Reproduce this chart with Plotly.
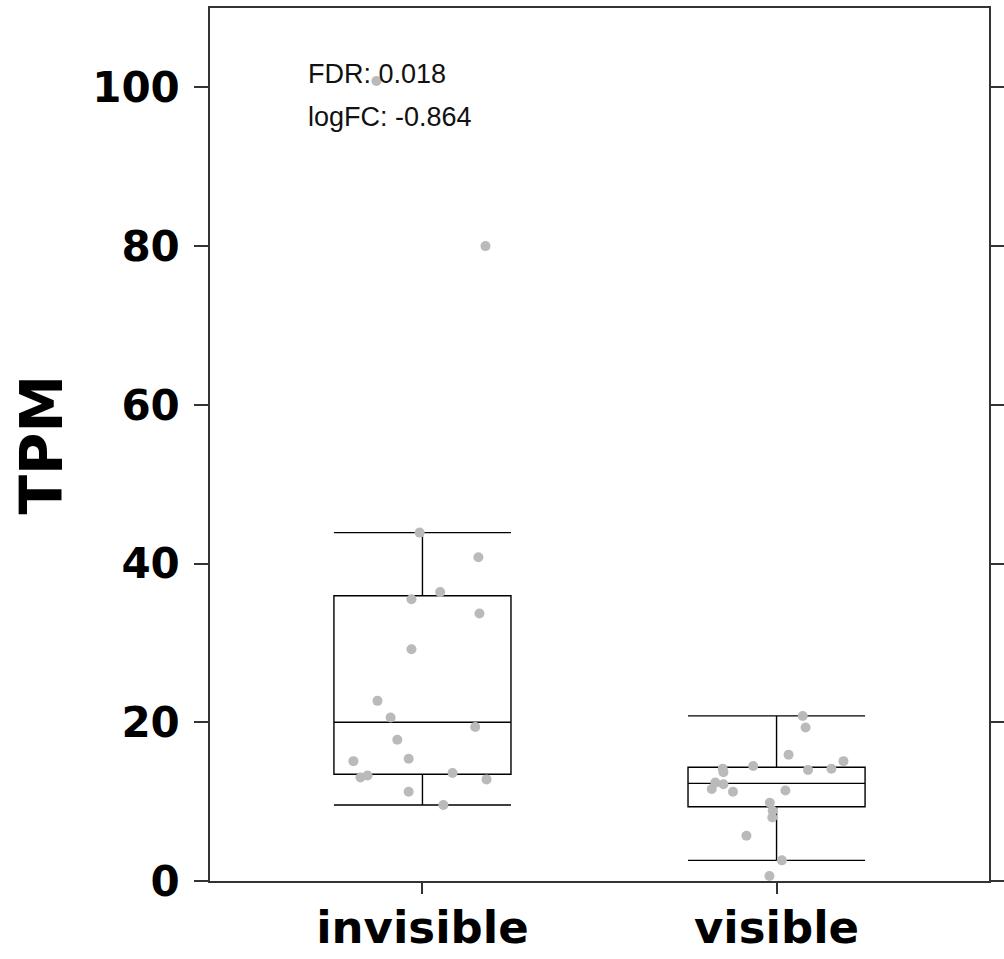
import numpy as np
import plotly.graph_objects as go

# Expression (TPM) per sample for each group
groups = ["invisible", "visible"]

tpm_invisible = [43.9, 40.8, 36.4, 35.5, 33.7, 29.2, 22.7, 20.6, 19.4, 17.8,
                 15.1, 15.4, 13.6, 13.05, 13.3, 12.8, 11.25, 9.57, 80.0, 100.8]
jitter_invisible = [-0.008, 0.158, 0.050, -0.031, 0.161, -0.031, -0.127, -0.090, 0.149, -0.071,
                    -0.195, -0.039, 0.085, -0.175, -0.155, 0.181, -0.039, 0.059, 0.178, -0.130]

tpm_visible = [20.8, 19.35, 15.9, 15.1, 14.15, 14.5, 14.0, 14.15, 13.7, 12.4,
               12.2, 11.6, 11.25, 11.4, 9.85, 8.85, 8.0, 5.7, 2.6, 0.63]
jitter_visible = [0.074, 0.082, 0.034, 0.189, -0.152, -0.066, 0.089, 0.155, -0.150, -0.173,
                  -0.150, -0.183, -0.123, 0.025, -0.019, -0.011, -0.012, -0.085, 0.015, -0.020]

y_ticks = [0, 20, 40, 60, 80, 100]
stats_lines = ["FDR: 0.018", "logFC: -0.864"]

values = [tpm_invisible, tpm_visible]
jitters = [jitter_invisible, jitter_visible]

W, H = 1004, 959
L, R, T, B = 210, 15, 8, 78

AXIS_COLOR = "#333333"
POINT_COLOR = "#bababa"

fig = go.Figure()

for i, (name, vals, jit) in enumerate(zip(groups, values, jitters)):
    pos = i + 1
    fig.add_trace(go.Scatter(
        x=[pos + j for j in jit], y=vals, mode="markers",
        marker=dict(size=10, color=POINT_COLOR, line=dict(width=0)),
        showlegend=False, hoverinfo="skip",
    ))
    fig.add_trace(go.Box(
        x=[pos] * len(vals), y=vals, name=name,
        width=0.5, whiskerwidth=1.0,
        quartilemethod="exclusive",
        boxpoints="outliers",
        marker=dict(opacity=0, size=1),
        line=dict(color="black", width=1.4),
        fillcolor="rgba(0,0,0,0)",
        showlegend=False,
    ))

# Statistics in the upper-left corner of the panel
for k, (txt, yp) in enumerate(zip(stats_lines, [74, 117])):
    fig.add_annotation(
        text=txt, xref="paper", yref="paper",
        x=(306 - L) / (W - L - R), y=(H - B - yp) / (H - B - T),
        xanchor="left", yanchor="middle", showarrow=False,
        font=dict(family="Liberation Sans", size=27, color="#111111"),
    )

# Y-axis title
fig.add_annotation(
    text="TPM", xref="paper", yref="paper", x=0, y=0.5,
    xshift=41 - L, xanchor="center", yanchor="middle", textangle=-90,
    showarrow=False,
    font=dict(family="DejaVu Sans", size=58, color="black", weight="bold"),
)

fig.update_layout(
    width=W, height=H,
    margin=dict(l=L, r=R, t=T, b=B, pad=0, autoexpand=False),
    paper_bgcolor="white", plot_bgcolor="white",
    showlegend=False,
    xaxis=dict(
        range=[0.4, 2.6], tickmode="array", tickvals=[1, 2], ticktext=groups,
        showgrid=False, zeroline=False, automargin=False,
        showline=True, linecolor=AXIS_COLOR, linewidth=1.5, mirror=True,
        ticks="outside", ticklen=11, tickwidth=1.5, tickcolor=AXIS_COLOR,
        ticklabelstandoff=-5,
        tickfont=dict(family="DejaVu Sans", size=45, color="black", weight="bold"),
    ),
    yaxis=dict(
        range=[0, 110], tickmode="array", tickvals=y_ticks,
        showgrid=False, zeroline=False, automargin=False,
        showline=True, linecolor=AXIS_COLOR, linewidth=1.5, mirror="ticks",
        ticks="outside", ticklen=14, tickwidth=1.5, tickcolor=AXIS_COLOR,
        ticklabelstandoff=6,
        tickfont=dict(family="DejaVu Sans", size=42, color="black", weight="bold"),
    ),
)

fig.write_html("out.html")
